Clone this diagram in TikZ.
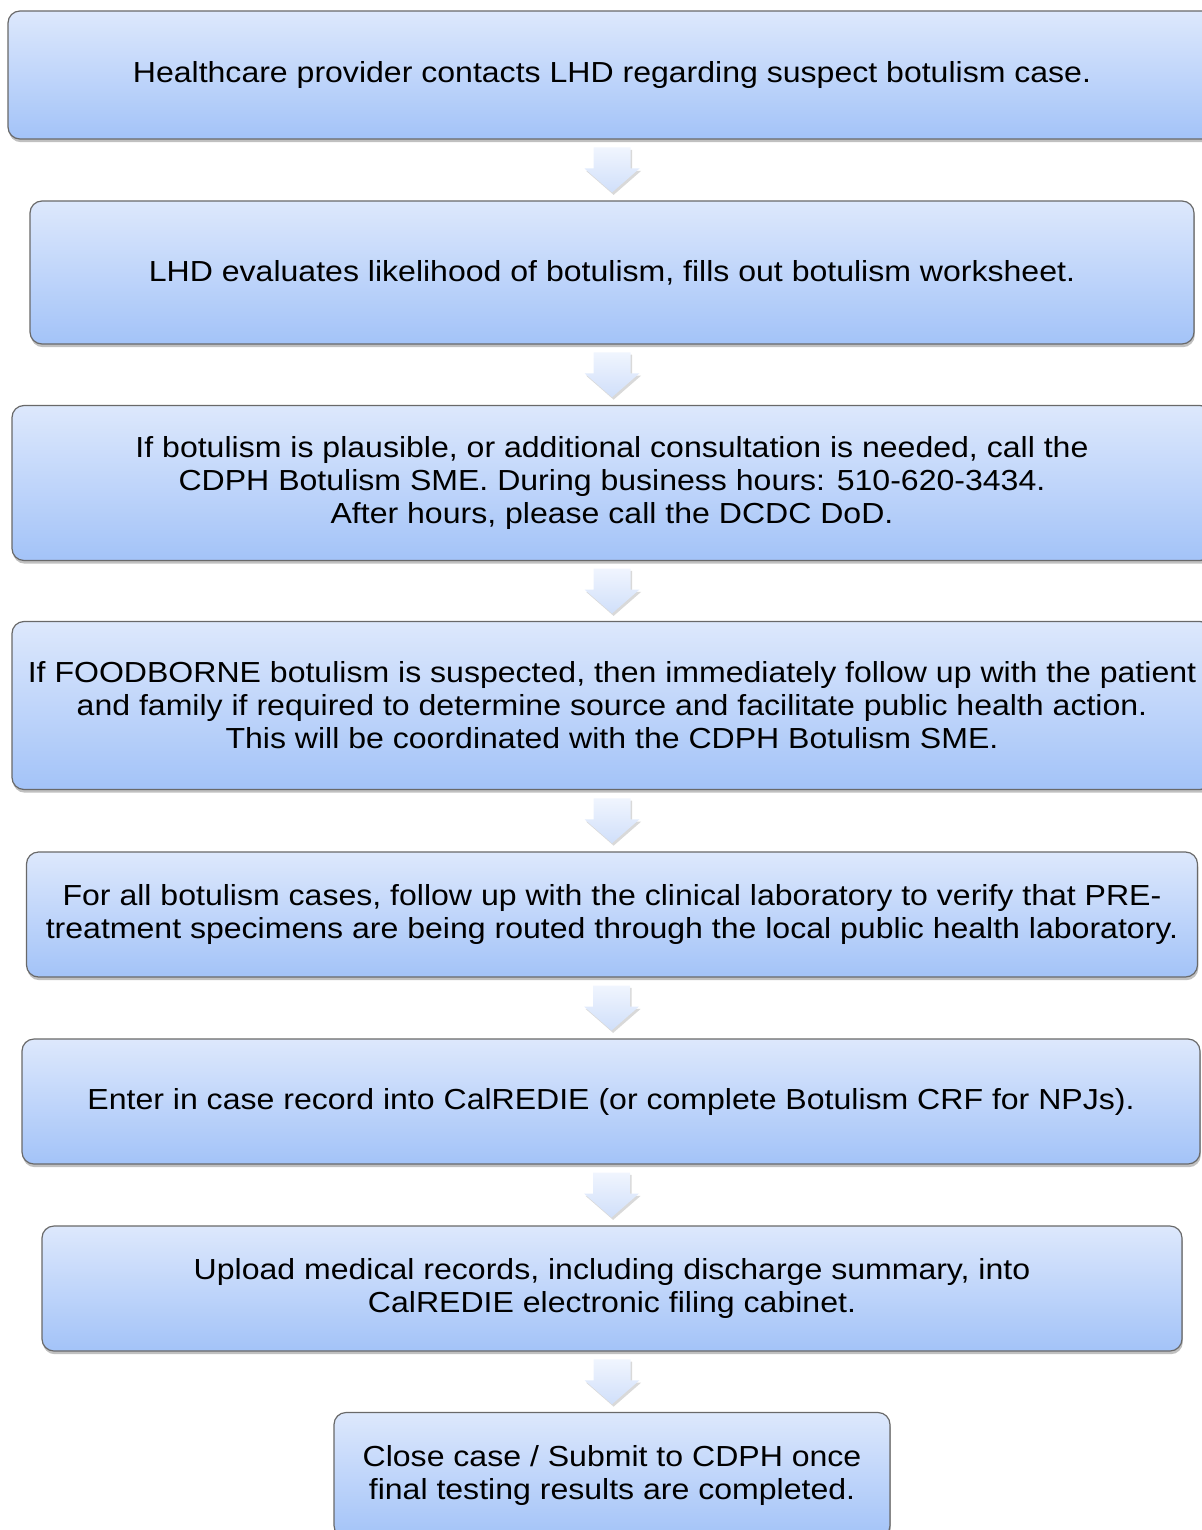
\documentclass[tikz,border=0pt]{standalone}
\usepackage{fontspec}
\setmainfont[FakeStretch=1.105]{Liberation Sans}
\usetikzlibrary{shadows,calc}
\definecolor{boxtop}{RGB}{221,232,252}
\definecolor{boxbot}{RGB}{163,195,248}
\definecolor{boxline}{RGB}{105,105,105}
\definecolor{arrtop}{RGB}{240,245,254}
\definecolor{arrbot}{RGB}{208,223,250}
\tikzset{
  stepbox/.style={draw=boxline, line width=0.6pt, rounded corners=6pt,
    top color=boxtop, bottom color=boxbot,
    drop shadow={shadow xshift=0.4pt, shadow yshift=-1.6pt, opacity=0.45, fill=black!55},
    align=center, inner sep=0pt, text=black,
    font=\fontsize{14.5}{16.5}\selectfont},
  flowarrow/.pic={
    \path[top color=arrtop, bottom color=arrbot,
      drop shadow={shadow xshift=0.8pt, shadow yshift=-1.2pt, opacity=0.3, fill=black!50}]
      (-18.5,-22.5) -- (18.5,-22.5) -- (18.5,-1.5) -- (27.5,-1.5) -- (0,22.5)
      -- (-27.5,-1.5) -- (-18.5,-1.5) -- cycle;
  }
}
\begin{document}
\begin{tikzpicture}[x=0.5pt,y=-0.5pt]
\useasboundingbox (0,0) rectangle (1202,1530);
\node[stepbox, minimum width=604pt, minimum height=64pt] (b1) at (612,75)
  {Healthcare provider contacts LHD regarding suspect botulism case.};
\node[stepbox, minimum width=582pt, minimum height=71.5pt] (b2) at (612,272.5)
  {LHD evaluates likelihood of botulism, fills out botulism worksheet.};
\node[stepbox, minimum width=600pt, minimum height=77.5pt] (b3) at (612,483)
  {If botulism is plausible, or additional consultation is needed, call the\\
   CDPH Botulism SME. During business hours: 510-620-3434.\\
   After hours, please call the DCDC DoD.};
\node[stepbox, minimum width=600pt, minimum height=84pt] (b4) at (612,705.5)
  {If FOODBORNE botulism is suspected, then immediately follow up with the patient\\
   and family if required to determine source and facilitate public health action.\\
   This will be coordinated with the CDPH Botulism SME.};
\node[stepbox, minimum width=585.5pt, minimum height=62.5pt] (b5) at (612,914.5)
  {For all botulism cases, follow up with the clinical laboratory to verify that PRE-\\
   treatment specimens are being routed through the local public health laboratory.};
\node[stepbox, minimum width=589pt, minimum height=62.5pt] (b6) at (611,1101.5)
  {Enter in case record into CalREDIE (or complete Botulism CRF for NPJs).};
\node[stepbox, minimum width=570pt, minimum height=62.5pt] (b7) at (612,1288.5)
  {Upload medical records, including discharge summary, into\\
   CalREDIE electronic filing cabinet.};
\node[stepbox, minimum width=278pt, minimum height=62.5pt] (b8) at (612,1475)
  {Close case / Submit to CDPH once\\ final testing results are completed.};
\foreach \a/\b in {b1/b2,b2/b3,b3/b4,b4/b5,b5/b6,b6/b7,b7/b8}{
  \pic at ($(\a.south)!0.5!(\b.north)$) {flowarrow};
}
\end{tikzpicture}
\end{document}
